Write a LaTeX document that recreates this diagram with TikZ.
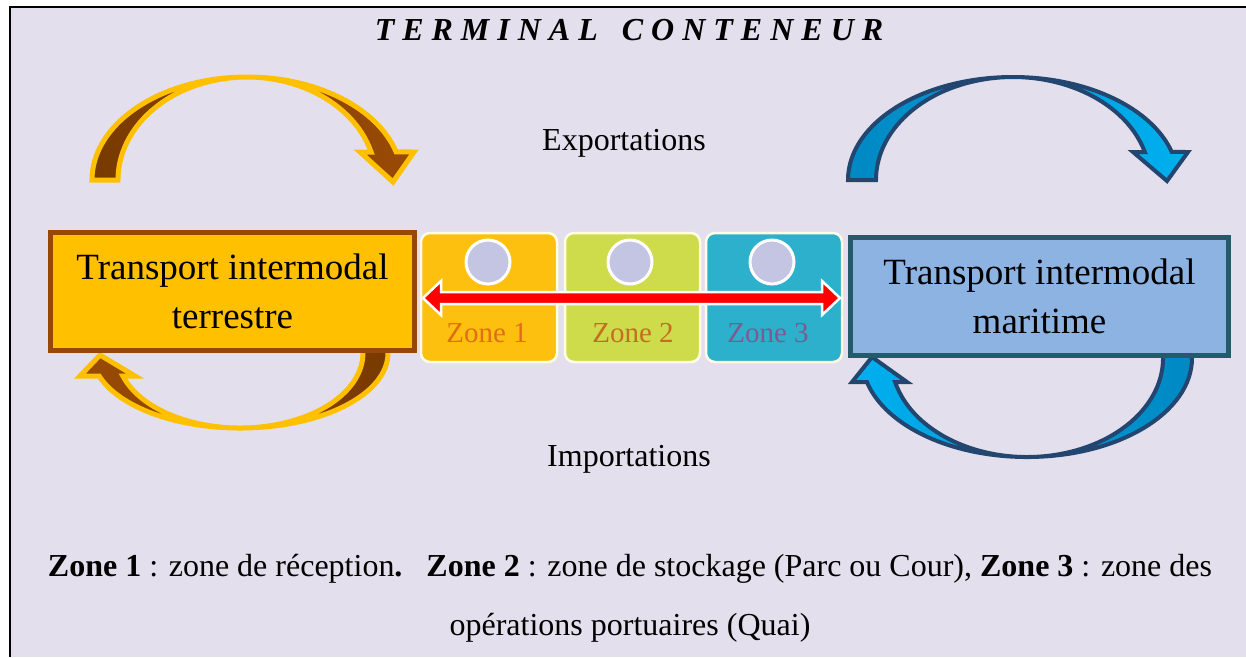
\documentclass[tikz,border=0pt]{standalone}
\usepackage{fontspec}
\setmainfont{Liberation Serif}
\definecolor{bgLav}{HTML}{E4DFEC}
\definecolor{landFill}{HTML}{FFC000}
\definecolor{landEdge}{HTML}{984806}
\definecolor{brownDark}{HTML}{783A00}
\definecolor{brownLight}{HTML}{9A4A06}
\definecolor{seaFill}{HTML}{8DB3E2}
\definecolor{seaEdge}{HTML}{245A69}
\definecolor{blueEdge}{HTML}{22466F}
\definecolor{blueLight}{HTML}{00B0F0}
\definecolor{blueDark}{HTML}{0088C2}
\definecolor{zoneA}{HTML}{FEC00E}
\definecolor{zoneB}{HTML}{CEDB4B}
\definecolor{zoneC}{HTML}{2DB0CB}
\definecolor{zoneEdge}{HTML}{FFFDE6}
\definecolor{dotFill}{HTML}{C4C5E3}
\definecolor{zoneTxtA}{HTML}{DE6E1A}
\definecolor{zoneTxtB}{HTML}{C46F1E}
\definecolor{zoneTxtC}{HTML}{7D5A93}
\tikzset{
  landarrow/.style={draw=landFill, line width=5pt, line join=miter},
  seaarrow/.style={draw=blueEdge, line width=4pt, line join=miter},
  modebox/.style={line width=5pt, minimum width=364pt, minimum height=118pt,
    inner sep=0pt, align=center, font=\fontsize{37}{49}\selectfont},
  zonebox/.style={draw=zoneEdge, line width=2.5pt, rounded corners=9pt},
  dot/.style={circle, draw=white, line width=3pt, fill=dotFill,
    minimum size=44pt, inner sep=0pt},
  zonelabel/.style={anchor=base, font=\fontsize{29}{34}\selectfont},
  plain/.style={anchor=base, font=\fontsize{32}{38}\selectfont},
}
\begin{document}
\begin{tikzpicture}[x=1pt,y=1pt]
\useasboundingbox (0,0) rectangle (1246,-657);
% page and frame
\fill[white] (0,0) rectangle (1246,-657);
\fill[bgLav] (10,-7) rectangle (1246,-657);
\draw[black, line width=2.2pt] (10,-657) -- (10,-7) -- (1246,-7);

% title
\node[anchor=base, font=\fontsize{32}{38}\selectfont\bfseries\itshape] (title)
  at (629,-40) {T E R M I N A L \ \ C O N T E N E U R};

% land side: export loop (top)
\draw[landarrow, left color=brownDark, right color=brownLight]
  (92,-180) arc[start angle=180, end angle=15.8, x radius=155pt, y radius=103pt]
  -- (414,-152) -- (393,-182) -- (360,-152) -- (371.1,-152)
  arc[start angle=15.8, end angle=180, x radius=129pt, y radius=103pt] -- cycle;
% land side: import loop (bottom)
\draw[landarrow, left color=brownLight, right color=brownDark]
  (388,-340) -- (388,-353)
  arc[start angle=0, end angle=-162.14, x radius=148pt, y radius=75pt]
  -- (80,-376) -- (100,-355) -- (135,-376) -- (122.9,-376)
  arc[start angle=-162.14, end angle=0, x radius=123pt, y radius=75pt]
  -- (363,-340) -- cycle;

% sea side: export loop (top)
\draw[seaarrow, left color=blueDark, right color=blueLight]
  (848,-180) arc[start angle=180, end angle=15.8, x radius=165pt, y radius=103pt]
  -- (1188,-152) -- (1167,-181) -- (1133,-152) -- (1144.8,-152)
  arc[start angle=15.8, end angle=180, x radius=137pt, y radius=103pt] -- cycle;
% sea side: import loop (bottom)
\draw[seaarrow, left color=blueLight, right color=blueDark]
  (1192,-345) -- (1192,-358)
  arc[start angle=0, end angle=-165.97, x radius=165pt, y radius=99pt]
  -- (852,-382) -- (872,-357) -- (907,-382) -- (895.1,-382)
  arc[start angle=-165.97, end angle=0, x radius=136pt, y radius=99pt]
  -- (1163,-345) -- cycle;

% transport boxes
\node[modebox, draw=landEdge, fill=landFill] (land) at (232.5,-291.5)
  {Transport intermodal\\terrestre};
\node[modebox, draw=seaEdge, fill=seaFill, minimum width=378pt] (sea) at (1039.5,-296.5)
  {Transport intermodal\\maritime};

% terminal zones
\draw[zonebox, fill=zoneA] (421,-233) rectangle (557,-362);
\draw[zonebox, fill=zoneB] (565,-233) rectangle (700,-362);
\draw[zonebox, fill=zoneC] (706,-233) rectangle (842,-362);
\node[dot] (d1) at (488,-262) {};
\node[dot] (d2) at (630,-262) {};
\node[dot] (d3) at (772,-262) {};
\node[zonelabel, text=zoneTxtA] (z1) at (487,-342) {Zone 1};
\node[zonelabel, text=zoneTxtB] (z2) at (633,-342) {Zone 2};
\node[zonelabel, text=zoneTxtC] (z3) at (768,-342) {Zone 3};

% flow through the terminal
\draw[fill=red, draw=white, line width=2.5pt, line join=miter]
  (423,-298) -- (441,-281) -- (441,-292) -- (822,-292) -- (822,-281)
  -- (840,-298) -- (822,-315) -- (822,-304) -- (441,-304) -- (441,-315) -- cycle;

% flow labels
\node[plain] (exp) at (624,-150) {Exportations};
\node[plain] (imp) at (629,-466) {Importations};

% legend
\node[plain] (leg1) at (630,-576) {\textbf{Zone 1} : zone de réception\textbf{.}\ \ \
  \textbf{Zone 2} : zone de stockage (Parc ou Cour), \textbf{Zone 3} : zone des};
\node[plain] (leg2) at (630,-635) {opérations portuaires (Quai)};
\end{tikzpicture}
\end{document}
